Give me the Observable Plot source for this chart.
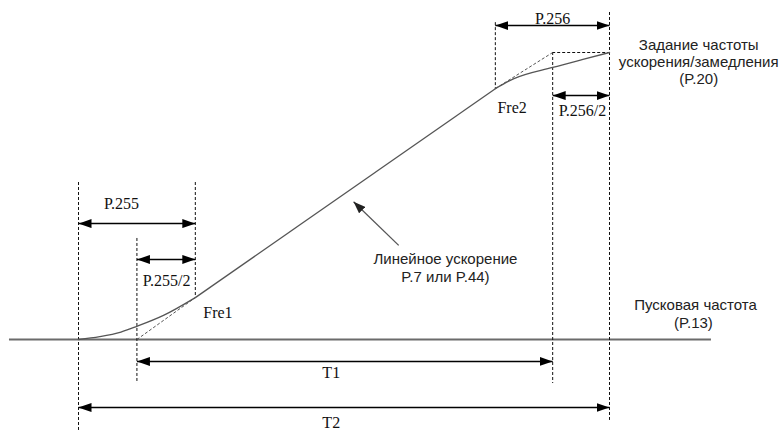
<!DOCTYPE html>
<html>
<head>
<meta charset="utf-8">
<script src="https://cdn.jsdelivr.net/npm/d3@7"></script>
<script src="https://cdn.jsdelivr.net/npm/@observablehq/plot@0.6"></script>
<style>
  html, body { margin: 0; padding: 0; background: #fff; }
  #chart svg { display: block; }
</style>
</head>
<body>
<div id="chart"></div>
<script>
// ---- Data (time units on x, frequency units on y) ----
// S-curve: lower bend (start -> Fre1), straight section, upper bend (Fre2 -> target)
const lowerT = [0, 0.4, 0.8, 1.1, 1.6, 2.2];
const lowerF = [0, 0.5, 1.3, 2.3, 4.2, 7.3];
const upperT = [7.85, 8.19, 8.93, 9.5, 10];
const upperF = [43.7, 45.4, 47.4, 48.8, 50];

const baseT = [-1.3, 11.92];          // start-frequency (baseline) extent
const targetF = 50;                   // set frequency level (P.20)

// dashed guide lines (vertical)
const guideT  = [0, 1.1, 2.2, 7.85, 8.93, 10];
const guideF1 = [27.35, 17.6, 27.35, 55.2, 50, 56.97];
const guideF2 = [-15.85, -7.67, 7.3, 43.7, -7.67, -14.1];

// dashed tangent (linear-extension) lines
const tanT1 = [1.1, 7.85];
const tanF1 = [0, 43.7];
const tanT2 = [2.2, 8.93];
const tanF2 = [7.3, 50];

// dimension arrows
const dimLabels = ["P.255", "P.255/2", "T1", "T2", "P.256", "P.256/2"];
const dimT1 = [0, 1.1, 1.1, 0, 7.85, 8.93];
const dimT2 = [2.2, 2.2, 8.93, 10, 10, 10];
const dimF  = [20.2, 13.94, -3.83, -11.85, 54.7, 42.5];
const dimLabelT = [0.81, 1.66, 4.76, 4.76, 8.93, 9.49];
const dimLabelF = [23.7, 10.3, -5.75, -14.55, 55.9, 39.9];

// point labels
const ptLabels = ["Fre1", "Fre2"];
const ptT = [2.35, 7.89];
const ptF = [4.7, 40.4];

// notes (sans-serif)
const notes = ["Задание частоты", "ускорения/замедления", "(P.20)",
               "Пусковая частота", "(P.13)",
               "Линейное ускорение", "P.7 или P.44)"];
const noteT = [11.68, 11.68, 11.68, 11.62, 11.58, 6.91, 6.91];
const noteF = [51.2, 48.26, 45.3, 5.92, 2.79, 13.94, 10.8];

// pointer arrow to linear section
const pointerT = [6.03, 5.18];
const pointerF = [16.4, 24.0];

// ---- Build tables ----
const lower = lowerT.map((t, i) => ({t, f: lowerF[i]}));
const upper = upperT.map((t, i) => ({t, f: upperF[i]}));
const linear = [{t1: lowerT[lowerT.length - 1], f1: lowerF[lowerF.length - 1],
                 t2: upperT[0], f2: upperF[0]}];
const guides = guideT.map((t, i) => ({t, f1: guideF1[i], f2: guideF2[i]}));
const tangents = tanT1.map((t, i) => ({t1: t, f1: tanF1[i], t2: tanT2[i], f2: tanF2[i]}));
const dims = dimLabels.map((l, i) => ({l, t1: dimT1[i], t2: dimT2[i], f: dimF[i], lt: dimLabelT[i], lf: dimLabelF[i]}));
const pts = ptLabels.map((l, i) => ({l, t: ptT[i], f: ptF[i]}));
const noteRows = notes.map((l, i) => ({l, t: noteT[i], f: noteF[i]}));
const pointer = [{t1: pointerT[0], f1: pointerF[0], t2: pointerT[1], f2: pointerF[1]}];

const W = 783, H = 430;
const pxPerT = 53.1, x0 = 78;
const pxPerF = 5.74, y0 = 339;

const DIM_STROKE = "#010101";
const PTR_STROKE = "#555556";

const svg = Plot.plot({
  width: W,
  height: H,
  margin: 0,
  x: {domain: [(0 - x0) / pxPerT, (W - x0) / pxPerT], axis: null},
  y: {domain: [(y0 - H) / pxPerF, y0 / pxPerF], axis: null},
  style: {background: "#fff"},
  marks: [
    // baseline (start frequency)
    Plot.ruleY([0], {x1: baseT[0], x2: baseT[1], stroke: "#6b6b6b", strokeWidth: 2}),
    // vertical dashed guides
    Plot.ruleX(guides, {x: "t", y1: "f1", y2: "f2", stroke: "#111", strokeWidth: 1, strokeDasharray: "3,2"}),
    // top dashed horizontal at target
    Plot.ruleY([targetF], {x1: guideT[4], x2: guideT[5], stroke: "#111", strokeWidth: 1, strokeDasharray: "3,2"}),
    // dashed tangents
    Plot.link(tangents, {x1: "t1", y1: "f1", x2: "t2", y2: "f2", stroke: "#555", strokeWidth: 1, strokeDasharray: "3,2"}),
    // S-curve
    Plot.line(lower, {x: "t", y: "f", curve: "monotone-x", stroke: "#555", strokeWidth: 1.3}),
    Plot.link(linear, {x1: "t1", y1: "f1", x2: "t2", y2: "f2", stroke: "#555", strokeWidth: 1.3}),
    Plot.line(upper, {x: "t", y: "f", curve: "monotone-x", stroke: "#555", strokeWidth: 1.3}),
    // dimension arrows
    Plot.link(dims, {x1: "t1", x2: "t2", y1: "f", y2: "f", stroke: DIM_STROKE, strokeWidth: 1.5}),
    Plot.text(dims, {x: "lt", y: "lf", text: "l", fontFamily: "Liberation Serif", fontSize: 16, fill: "#111"}),
    // point labels
    Plot.text(pts, {x: "t", y: "f", text: "l", textAnchor: "start", fontFamily: "Liberation Serif", fontSize: 16, fill: "#111"}),
    // pointer arrow
    Plot.link(pointer, {x1: "t1", y1: "f1", x2: "t2", y2: "f2", stroke: PTR_STROKE, strokeWidth: 1.3}),
    // notes
    Plot.text(noteRows, {x: "t", y: "f", text: "l", fontFamily: "Liberation Sans", fontSize: 15, fill: "#222"})
  ]
});

// filled arrowheads
const root = d3.select(svg);
const defs = root.insert("defs", ":first-child");
function addMarker(id, color, len, wid) {
  defs.append("marker")
    .attr("id", id)
    .attr("viewBox", `0 0 ${len} ${wid}`)
    .attr("refX", len).attr("refY", wid / 2)
    .attr("markerWidth", len).attr("markerHeight", wid)
    .attr("markerUnits", "userSpaceOnUse")
    .attr("orient", "auto-start-reverse")
    .append("path")
    .attr("d", `M0,0L${len},${wid / 2}L0,${wid}Z`)
    .attr("fill", color);
}
addMarker("headK", "#000", 13, 9);
addMarker("headG", "#222", 12, 9);
function strokeOf(el) {
  let n = el;
  while (n && n !== svg) {
    const s = n.getAttribute && n.getAttribute("stroke");
    if (s) return s.toLowerCase();
    n = n.parentNode;
  }
  return null;
}
root.selectAll("path, line").each(function () {
  const s = strokeOf(this);
  if (s === DIM_STROKE) {
    d3.select(this).attr("marker-start", "url(#headK)").attr("marker-end", "url(#headK)");
  } else if (s === PTR_STROKE) {
    d3.select(this).attr("marker-end", "url(#headG)");
  }
});

document.getElementById("chart").appendChild(svg);
</script>
</body>
</html>
